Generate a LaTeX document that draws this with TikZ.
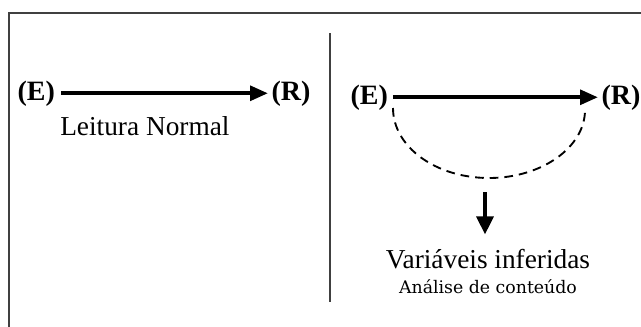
\documentclass[tikz,border=0pt]{standalone}
\usepackage{fontspec}
\setmainfont{Liberation Serif}
\newfontfamily\smallserif{DejaVu Serif}
\usetikzlibrary{arrows.meta}
\begin{document}
\begin{tikzpicture}[x=0.75pt,y=-0.75pt,
  lbl/.style={font=\fontsize{21}{24}\selectfont\bfseries, inner xsep=2.5pt, inner ysep=0pt, anchor=base west},
  txt/.style={font=\fontsize{20.5}{24}\selectfont, inner sep=0pt},
  sub/.style={font=\fontsize{13}{15}\selectfont\smallserif, inner sep=0pt, anchor=base},
  frame/.style={draw=black!75, line width=1.5pt},
  mainarr/.style={line width=3pt, -{Triangle[length=13.5pt,width=11pt]}},
  downarr/.style={line width=3pt, -{Triangle[length=13.5pt,width=12.5pt]}},
  dasharc/.style={line width=1.4pt, dash pattern=on 6.5pt off 4.5pt}]
\useasboundingbox (0,0) rectangle (641,326);
\draw[frame] (9,13) rectangle (700,400);
\coordinate (divtop) at (330,33);
\coordinate (divbot) at (330,302);
\draw[frame] (divtop) -- (divbot);
% left panel
\node[lbl] (E1) at (14,100) {(E)};
\node[lbl] (R1) at (268,100) {(R)};
\draw[mainarr, shorten <=2pt] (E1.east) -- (E1.east -| R1.west);
\node[txt, anchor=base west] (LN) at (60,135) {Leitura Normal};
% right panel
\node[lbl] (E2) at (347,104) {(E)};
\node[lbl] (R2) at (598,104) {(R)};
\draw[mainarr, shorten <=1pt] (E2.east) -- (E2.east -| R2.west);
\coordinate (a1) at (393,108);
\coordinate (a2) at (489,178);
\coordinate (a3) at (585,110);
\draw[dasharc] (a1) .. controls (393,147) and (436,178) .. (a2)
               .. controls (542,178) and (585,147) .. (a3);
\coordinate (dtop) at (485,192);
\node[txt, anchor=base] (VI) at (488,268) {Variáveis inferidas};
\node[sub] (AC) at (488,293) {Análise de conteúdo};
\draw[downarr, shorten >=10.5pt] (dtop) -- (dtop |- VI.north);
\end{tikzpicture}
\end{document}
